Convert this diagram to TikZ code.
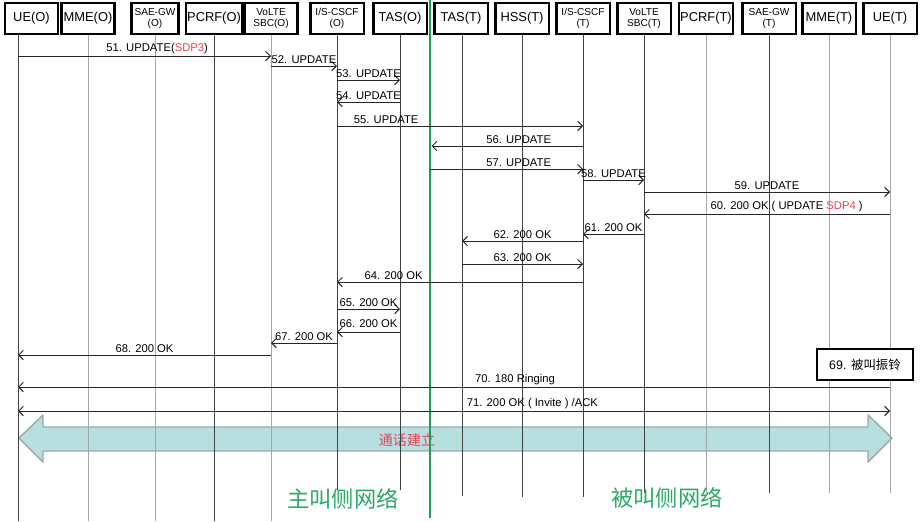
\documentclass[tikz,border=0pt]{standalone}
\usepackage{fontspec}
\setmainfont{Liberation Sans}
\newfontfamily\cjk{Noto Sans CJK SC}
\usetikzlibrary{arrows.meta}

\definecolor{sdpred}{HTML}{E8435A}
\definecolor{netgreen}{HTML}{1E9E55}
\definecolor{labgreen}{HTML}{2AA86A}
\definecolor{pipefill}{HTML}{B7DFDF}
\definecolor{pipeline}{HTML}{9AAAAA}

\tikzset{
    actor/.style={rectangle, draw=black, line width=2pt, fill=white, minimum width=1.6cm, minimum height=0.93cm, inner sep=1pt, text centered, font=\fontsize{11}{13}\selectfont},
    actortwo/.style={actor, align=center, font=\fontsize{8.6}{9.6}\selectfont},
    lifeD/.style={draw=black!75, line width=0.7pt},
    lifeG/.style={draw=black!35, line width=0.8pt},
    msg/.style={draw=black!85, line width=0.8pt, ->},
    lbl/.style={above, inner sep=1.5pt, font=\fontsize{9.6}{11}\selectfont},
    >={Straight Barb[length=4pt,width=8pt]}
}

\begin{document}
\begin{tikzpicture}[x=0.03cm, y=-0.03cm]
    \useasboundingbox (0,0) rectangle (920,521);

    % call setup pipe
    \draw [fill=pipefill, draw=pipeline, line width=1.2pt, line join=round] (19,438) -- (43,415) -- (43,427) -- (868,427) -- (868,415) -- (892,438) -- (868,462) -- (868,451) -- (43,451) -- (43,462) -- cycle;
    \node [text=sdpred, font=\cjk\fontsize{12}{14}\selectfont] (setup) at (407,440) {通话建立};

    % headers
    \node [actor] (ueO) at (31.5,18.5) {UE(O)};
    \node [actor] (mmeO) at (88,18.5) {MME(O)};
    \node [actortwo, minimum width=1.42cm] (sgwO) at (155,18.5) {SAE-GW\\(O)};
    \node [actor] (pcrfO) at (214,18.5) {PCRF(O)};
    \node [actortwo] (sbcO) at (271,18.5) {VoLTE\\SBC(O)};
    \node [actortwo] (cscfO) at (337,18.5) {I/S-CSCF\\(O)};
    \node [actor] (tasO) at (400,18.5) {TAS(O)};
    \node [actor] (tasT) at (461,18.5) {TAS(T)};
    \node [actor] (hssT) at (522,18.5) {HSS(T)};
    \node [actortwo] (cscfT) at (583,18.5) {I/S-CSCF\\(T)};
    \node [actortwo] (sbcT) at (644,18.5) {VoLTE\\SBC(T)};
    \node [actor] (pcrfT) at (706,18.5) {PCRF(T)};
    \node [actortwo] (sgwT) at (769,18.5) {SAE-GW\\(T)};
    \node [actor] (mmeT) at (829,18.5) {MME(T)};
    \node [actor] (ueT) at (890,18.5) {UE(T)};
    \coordinate (ueOl) at (18,34);

    % lifelines
    \draw [lifeD] (ueOl) -- (ueOl |- 0,521);
    \draw [lifeG] (mmeO.south) -- (mmeO |- 0,521);
    \draw [lifeG] (sgwO.south) -- (sgwO |- 0,521);
    \draw [lifeD] (pcrfO.south) -- (pcrfO |- 0,521);
    \draw [lifeG] (sbcO.south) -- (sbcO |- 0,521);
    \draw [lifeD] (cscfO.south) -- (cscfO |- 0,490);
    \draw [lifeD] (tasO.south) -- (tasO |- 0,490);
    \draw [lifeD] ([xshift=1pt]tasT.south) -- ([xshift=1pt]tasT.south |- 0,496);
    \draw [lifeD] (hssT.south) -- (hssT |- 0,497);
    \draw [lifeD] (cscfT.south) -- (cscfT |- 0,497);
    \draw [lifeD] (sbcT.south) -- (sbcT |- 0,493);
    \draw [lifeG] (pcrfT.south) -- (pcrfT |- 0,493);
    \draw [lifeD] (sgwT.south) -- (sgwT |- 0,493);
    \draw [lifeG] (mmeT.south) -- (mmeT |- 0,493);
    \draw [lifeG] (ueT.south) -- (ueT |- 0,493);

    % network split
    \coordinate (divTop) at (430,0);
    \coordinate (divBot) at (430,518);
    \draw [netgreen, line width=2.4pt] (divTop) -- (divBot);

    % messages
    \draw [msg] (ueOl |- 0,56) -- (sbcO |- 0,56) node [lbl, pos=0.55] {51. UPDATE(\textcolor{sdpred}{SDP3})};
    \draw [msg] (sbcO |- 0,66) -- (cscfO |- 0,66) node [lbl, midway] {52. UPDATE};
    \draw [msg] (cscfO |- 0,80) -- (tasO |- 0,80) node [lbl, midway] {53. UPDATE};
    \draw [msg] (tasO |- 0,102) -- (cscfO |- 0,102) node [lbl, midway] {54. UPDATE};
    \draw [msg] (cscfO |- 0,126) -- (cscfT |- 0,126) node [lbl, pos=0.2] {55. UPDATE};
    \draw [msg, shorten >=1.3pt] (cscfT |- 0,146) -- (divTop |- 0,146) node [lbl, pos=0.42] {56. UPDATE};
    \draw [msg] (divTop |- 0,169) -- (cscfT |- 0,169) node [lbl, pos=0.58] {57. UPDATE};
    \draw [msg] (cscfT |- 0,180) -- (sbcT |- 0,180) node [lbl, midway] {58. UPDATE};
    \draw [msg] (sbcT |- 0,192) -- (ueT |- 0,192) node [lbl, midway] {59. UPDATE};
    \draw [msg] (ueT |- 0,214) -- (sbcT |- 0,214) node [lbl, pos=0.42] {60. 200 OK ( UPDATE \textcolor{sdpred}{SDP4} )};
    \draw [msg] (sbcT |- 0,234) -- (cscfT |- 0,234) node [lbl, midway] {61. 200 OK};
    \draw [msg] (cscfT |- 0,241) -- ([xshift=1pt]tasT |- 0,241) node [lbl, midway] {62. 200 OK};
    \draw [msg] ([xshift=1pt]tasT |- 0,264) -- (cscfT |- 0,264) node [lbl, midway] {63. 200 OK};
    \draw [msg] (cscfT |- 0,282) -- (cscfO |- 0,282) node [lbl, pos=0.77] {64. 200 OK};
    \draw [msg] (cscfO |- 0,309) -- (tasO |- 0,309) node [lbl, midway] {65. 200 OK};
    \draw [msg] (tasO |- 0,332) -- (cscfO |- 0,332) node [lbl, midway, yshift=2pt] {66. 200 OK};
    \draw [msg] (cscfO |- 0,343) -- (sbcO |- 0,343) node [lbl, midway] {67. 200 OK};
    \draw [msg] (sbcO |- 0,355) -- (ueOl |- 0,355) node [lbl, midway] {68. 200 OK};

    \node [rectangle, draw=black, line width=1.8pt, fill=white, minimum width=2.88cm, minimum height=0.93cm, font=\fontsize{10.6}{12}\selectfont] (ring) at (865,364.5) {69. {\cjk 被叫振铃}};

    \draw [msg] (ueT |- 0,387) -- (ueOl |- 0,387) node [lbl, pos=0.43] {70. 180 Ringing};
    \draw [msg, <->] (ueOl |- 0,411) -- (ueT |- 0,411) node [lbl, pos=0.59] {71. 200 OK ( Invite ) /ACK};

    % sides
    \node [text=labgreen, font=\cjk\fontsize{19}{22}\selectfont] (mainNet) at (343,499) {主叫侧网络};
    \node [text=labgreen, font=\cjk\fontsize{19}{22}\selectfont] (peerNet) at (667,498) {被叫侧网络};
\end{tikzpicture}
\end{document}
